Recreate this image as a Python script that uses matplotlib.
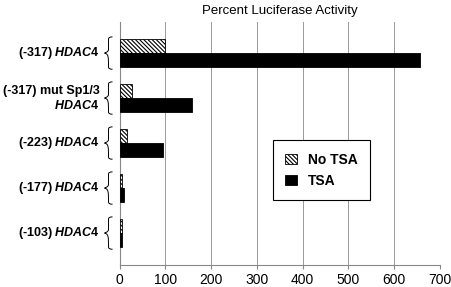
import numpy as np
import matplotlib.pyplot as plt
from matplotlib.path import Path
from matplotlib.patches import PathPatch
import matplotlib.transforms as mtransforms

plt.rcParams['font.family'] = 'Liberation Sans'
plt.rcParams['mathtext.fontset'] = 'custom'
plt.rcParams['mathtext.it'] = 'Liberation Sans:italic:bold'
plt.rcParams['mathtext.rm'] = 'Liberation Sans:bold'
plt.rcParams['hatch.linewidth'] = 0.8

# data
constructs = ['(-317) $HDAC4$', '(-317) mut Sp1/3\n$HDAC4$', '(-223) $HDAC4$',
              '(-177) $HDAC4$', '(-103) $HDAC4$']
no_tsa = [100, 28, 16, 6, 6]
tsa = [657, 158, 96, 9, 5]
xticks = [0, 100, 200, 300, 400, 500, 600, 700]

fig = plt.figure(figsize=(4.51, 2.87), dpi=100)
ax = fig.add_axes([119.5 / 451, 22 / 287, 320.5 / 451, 243 / 287])

y = np.arange(len(constructs))
h = 0.31
hatch = chr(92) * 8
ax.barh(y - h / 2, no_tsa, height=h, color='white', edgecolor='black',
        hatch=hatch, linewidth=0.6, label='No TSA', zorder=3)
ax.barh(y + h / 2, tsa, height=h, color='black', edgecolor='black',
        linewidth=0.6, label='TSA', zorder=3)

ax.set_xlim(0, 700)
ax.set_ylim(4.71, -0.69)
ax.set_xticks(xticks)
ax.set_xticklabels([str(v) for v in xticks], fontsize=10)
ax.tick_params(axis='x', length=3, color='#888888', pad=3)
ax.set_yticks([])
ax.grid(axis='x', color='#999999', linewidth=0.7, zorder=0)
for s in ['top', 'right']:
    ax.spines[s].set_visible(False)
ax.spines['left'].set_color('#888888')
ax.spines['bottom'].set_color('#888888')
ax.spines['left'].set_linewidth(0.8)
ax.spines['bottom'].set_linewidth(0.8)

ax.set_title('Percent Luciferase Activity', fontsize=9.5, pad=6)

# braces and labels
trans = mtransforms.blended_transform_factory(ax.transAxes, ax.transData)
xr = -11 / 320.5   # brace spine
xt = -7 / 320.5    # brace tips
xp = -15 / 320.5   # brace point
for i, lab in enumerate(constructs):
    top, bot = i - 0.36, i + 0.36
    verts = [(xt, top), (xr, top), (xr, top + 0.05),
             (xr, i - 0.08),
             (xr, i - 0.02), (xp, i), (xp, i),
             (xr, i + 0.02), (xr, i + 0.08),
             (xr, bot - 0.05),
             (xr, bot), (xt, bot)]
    codes = [Path.MOVETO, Path.CURVE3, Path.CURVE3,
             Path.LINETO,
             Path.CURVE4, Path.CURVE4, Path.CURVE4,
             Path.CURVE4, Path.CURVE4, Path.CURVE4,
             Path.CURVE3, Path.CURVE3]
    ax.add_patch(PathPatch(Path(verts, codes), transform=trans, fill=False,
                           lw=0.7, edgecolor='black', clip_on=False))
    ax.text(-20 / 320.5, i, lab, transform=trans, ha='right', va='center',
            fontsize=9, fontweight='bold', multialignment='right')

leg = ax.legend(loc='center', bbox_to_anchor=(0.63, 0.39),
                prop={'weight': 'bold', 'size': 10}, fancybox=False,
                edgecolor='black', framealpha=1, handlelength=0.8,
                handleheight=0.8, borderpad=0.9, labelspacing=0.5,
                handletextpad=0.8)
leg.get_frame().set_linewidth(0.8)

fig.savefig('out.png', dpi=100)
